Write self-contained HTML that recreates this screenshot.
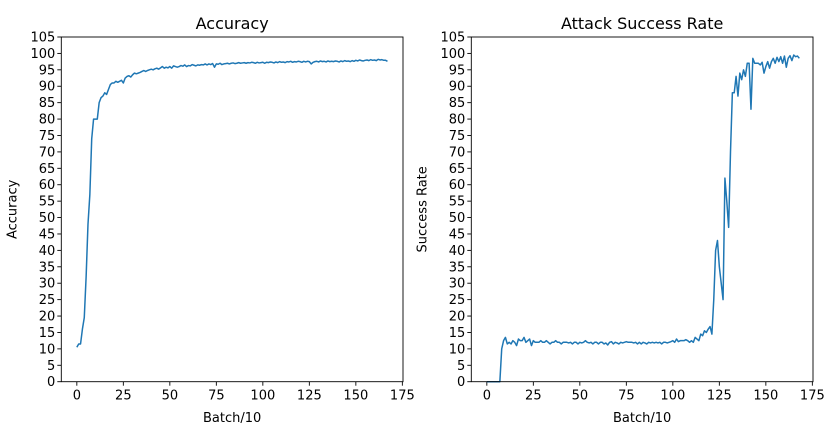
<!DOCTYPE html>
<html><head><meta charset="utf-8"><style>
body{margin:0;background:#fff;}
svg{display:block;font-family:"DejaVu Sans","Liberation Sans",sans-serif;}
</style></head><body>
<svg id="fig" width="828" height="430"></svg>
<script>
const xTicks=[0,25,50,75,100,125,150,175];
const yTicks=[0,5,10,15,20,25,30,35,40,45,50,55,60,65,70,75,80,85,90,95,100,105];
const accuracy=[10.5,11.5,11.5,16,19.5,32,48,57,74,80,80,80,85,86.5,87,88,87.5,89,90.5,91,91,91.5,91.2,91.5,91.8,91,92.5,93,93.2,92.8,93.5,94,93.8,94,94.2,94.5,94.8,94.5,94.8,95,95.2,95,95.3,95.5,95.2,95.6,96,95.5,95.8,95.6,96,95.5,96.2,96,95.8,96,96.3,96.1,96.5,96,96.3,96.2,96.6,96.4,96.2,96.5,96.4,96.6,96.5,96.8,96.5,96.8,96.6,96.9,95.8,96.8,96.7,97,96.6,96.8,96.9,97,96.8,97,97.1,96.9,97,97.2,97,97.1,97.2,97,97.2,97.1,97.3,97.2,97,97.3,97.1,97.2,97.3,97,97.3,97.2,97.4,97.3,97.1,97.4,97.2,97.5,97.3,97.4,97.2,97.5,97.4,97.6,97.3,97.5,97.4,97.6,97.5,97.3,97.6,97.4,97.6,97.5,96.8,97.3,97.5,97.6,97.4,97.7,97.5,97.6,97.4,97.7,97.5,97.6,97.5,97.7,97.6,97.4,97.7,97.5,97.8,97.6,97.7,97.5,97.8,97.6,97.9,97.7,98,97.8,97.7,97.9,98,97.8,98.1,97.9,98,97.8,98.2,98,98.1,97.9,97.9,97.6];
const asr=[0,0,0,0,0,0,0,0,10,12.5,13.5,11.5,12,11.5,12.5,12,11,13,12.5,12.5,13.5,12,12.5,13,11,12.5,12,12,12,12.5,12,12,12.5,12,11.5,12,12,12.5,12,12,11.5,12,12,12,11.8,12,11.5,12,12,11.5,12,11.8,12,12.5,12,11.8,12,11.5,12,12,11.5,12,12,11.5,11.8,11.2,12,12.2,11.5,12,11.8,11.5,12,11.8,12,12.2,12,12,12,11.8,12,11.5,12,11.5,12,11.8,11.5,12,11.8,12,11.8,12,11.8,12,11.5,12,12,11.8,12,12.2,12.5,12,13,12.2,12.5,12.5,12.5,12.8,12.5,12,12.5,12,13.5,13,12.5,14.5,14,15.5,15,16,16.8,14.5,25,40,43,35,30,25,62,55,47,70,88,88,93,87,94,92,95,93,97,97,83,98.5,97,97,97,96.5,97.3,94,96,97.5,95.5,97.5,98.5,97,98.8,97.5,99,97,99.2,95.8,98.5,99.3,97.8,99.5,99,99.2,98.5];

const NS='http://www.w3.org/2000/svg';
const svg=document.getElementById('fig');
function mk(tag,attrs,parent){const e=document.createElementNS(NS,tag);for(const k in attrs)e.setAttribute(k,attrs[k]);(parent||svg).appendChild(e);return e;}

function panel(left,title,ylab,data,key){
  const right=left+341.7,top=37,bottom=381.7;
  const xmin=-8.35,xmax=175.35;
  const X=v=>left+(v-xmin)/(xmax-xmin)*(right-left);
  const Y=v=>bottom-v/105*(bottom-top);
  const g=mk('g',{});
  
  
  const t=mk('text',{x:(left+right)/2,y:29,'text-anchor':'middle','font-size':16,fill:'#000'},g);
  t.textContent=title;
  
  
  xTicks.forEach(v=>{
    mk('line',{x1:X(v),x2:X(v),y1:bottom,y2:bottom+4,stroke:'#000','stroke-width':0.9},g);
    const l=mk('text',{x:X(v),y:bottom+18,'text-anchor':'middle','font-size':13},g);
    l.textContent=v;
    
    
  });
  yTicks.forEach(v=>{
    mk('line',{x1:left-4,x2:left,y1:Y(v),y2:Y(v),stroke:'#000','stroke-width':0.9},g);
    const l=mk('text',{x:left-6,y:Y(v)+4.5,'text-anchor':'end','font-size':13},g);
    l.textContent=v;
    
    
  });
  const xl=mk('text',{x:(left+right)/2,y:422,'text-anchor':'middle','font-size':13},g);
  xl.textContent='Batch/10';
  
  
  const yx=left-45;
  const yl=mk('text',{x:yx,y:(top+bottom)/2,'text-anchor':'middle','font-size':13,transform:`rotate(-90 ${yx} ${(top+bottom)/2})`},g);
  yl.textContent=ylab;
  
  
  const d=data.map((v,i)=>(i?'L':'M')+X(i).toFixed(2)+','+Y(v).toFixed(2)).join('');
  const p=mk('path',{d:d,fill:'none',stroke:'#1f77b4','stroke-width':1.5,'stroke-linejoin':'round'},g);
  
  
  const r=mk('rect',{x:left,y:top,width:right-left,height:bottom-top,fill:'none',stroke:'#000','stroke-width':0.9},g);
  
  
}
panel(61.3,'Accuracy','Accuracy',accuracy,'accuracy');
panel(471.3,'Attack Success Rate','Success Rate',asr,'asr');
</script>
</body></html>
